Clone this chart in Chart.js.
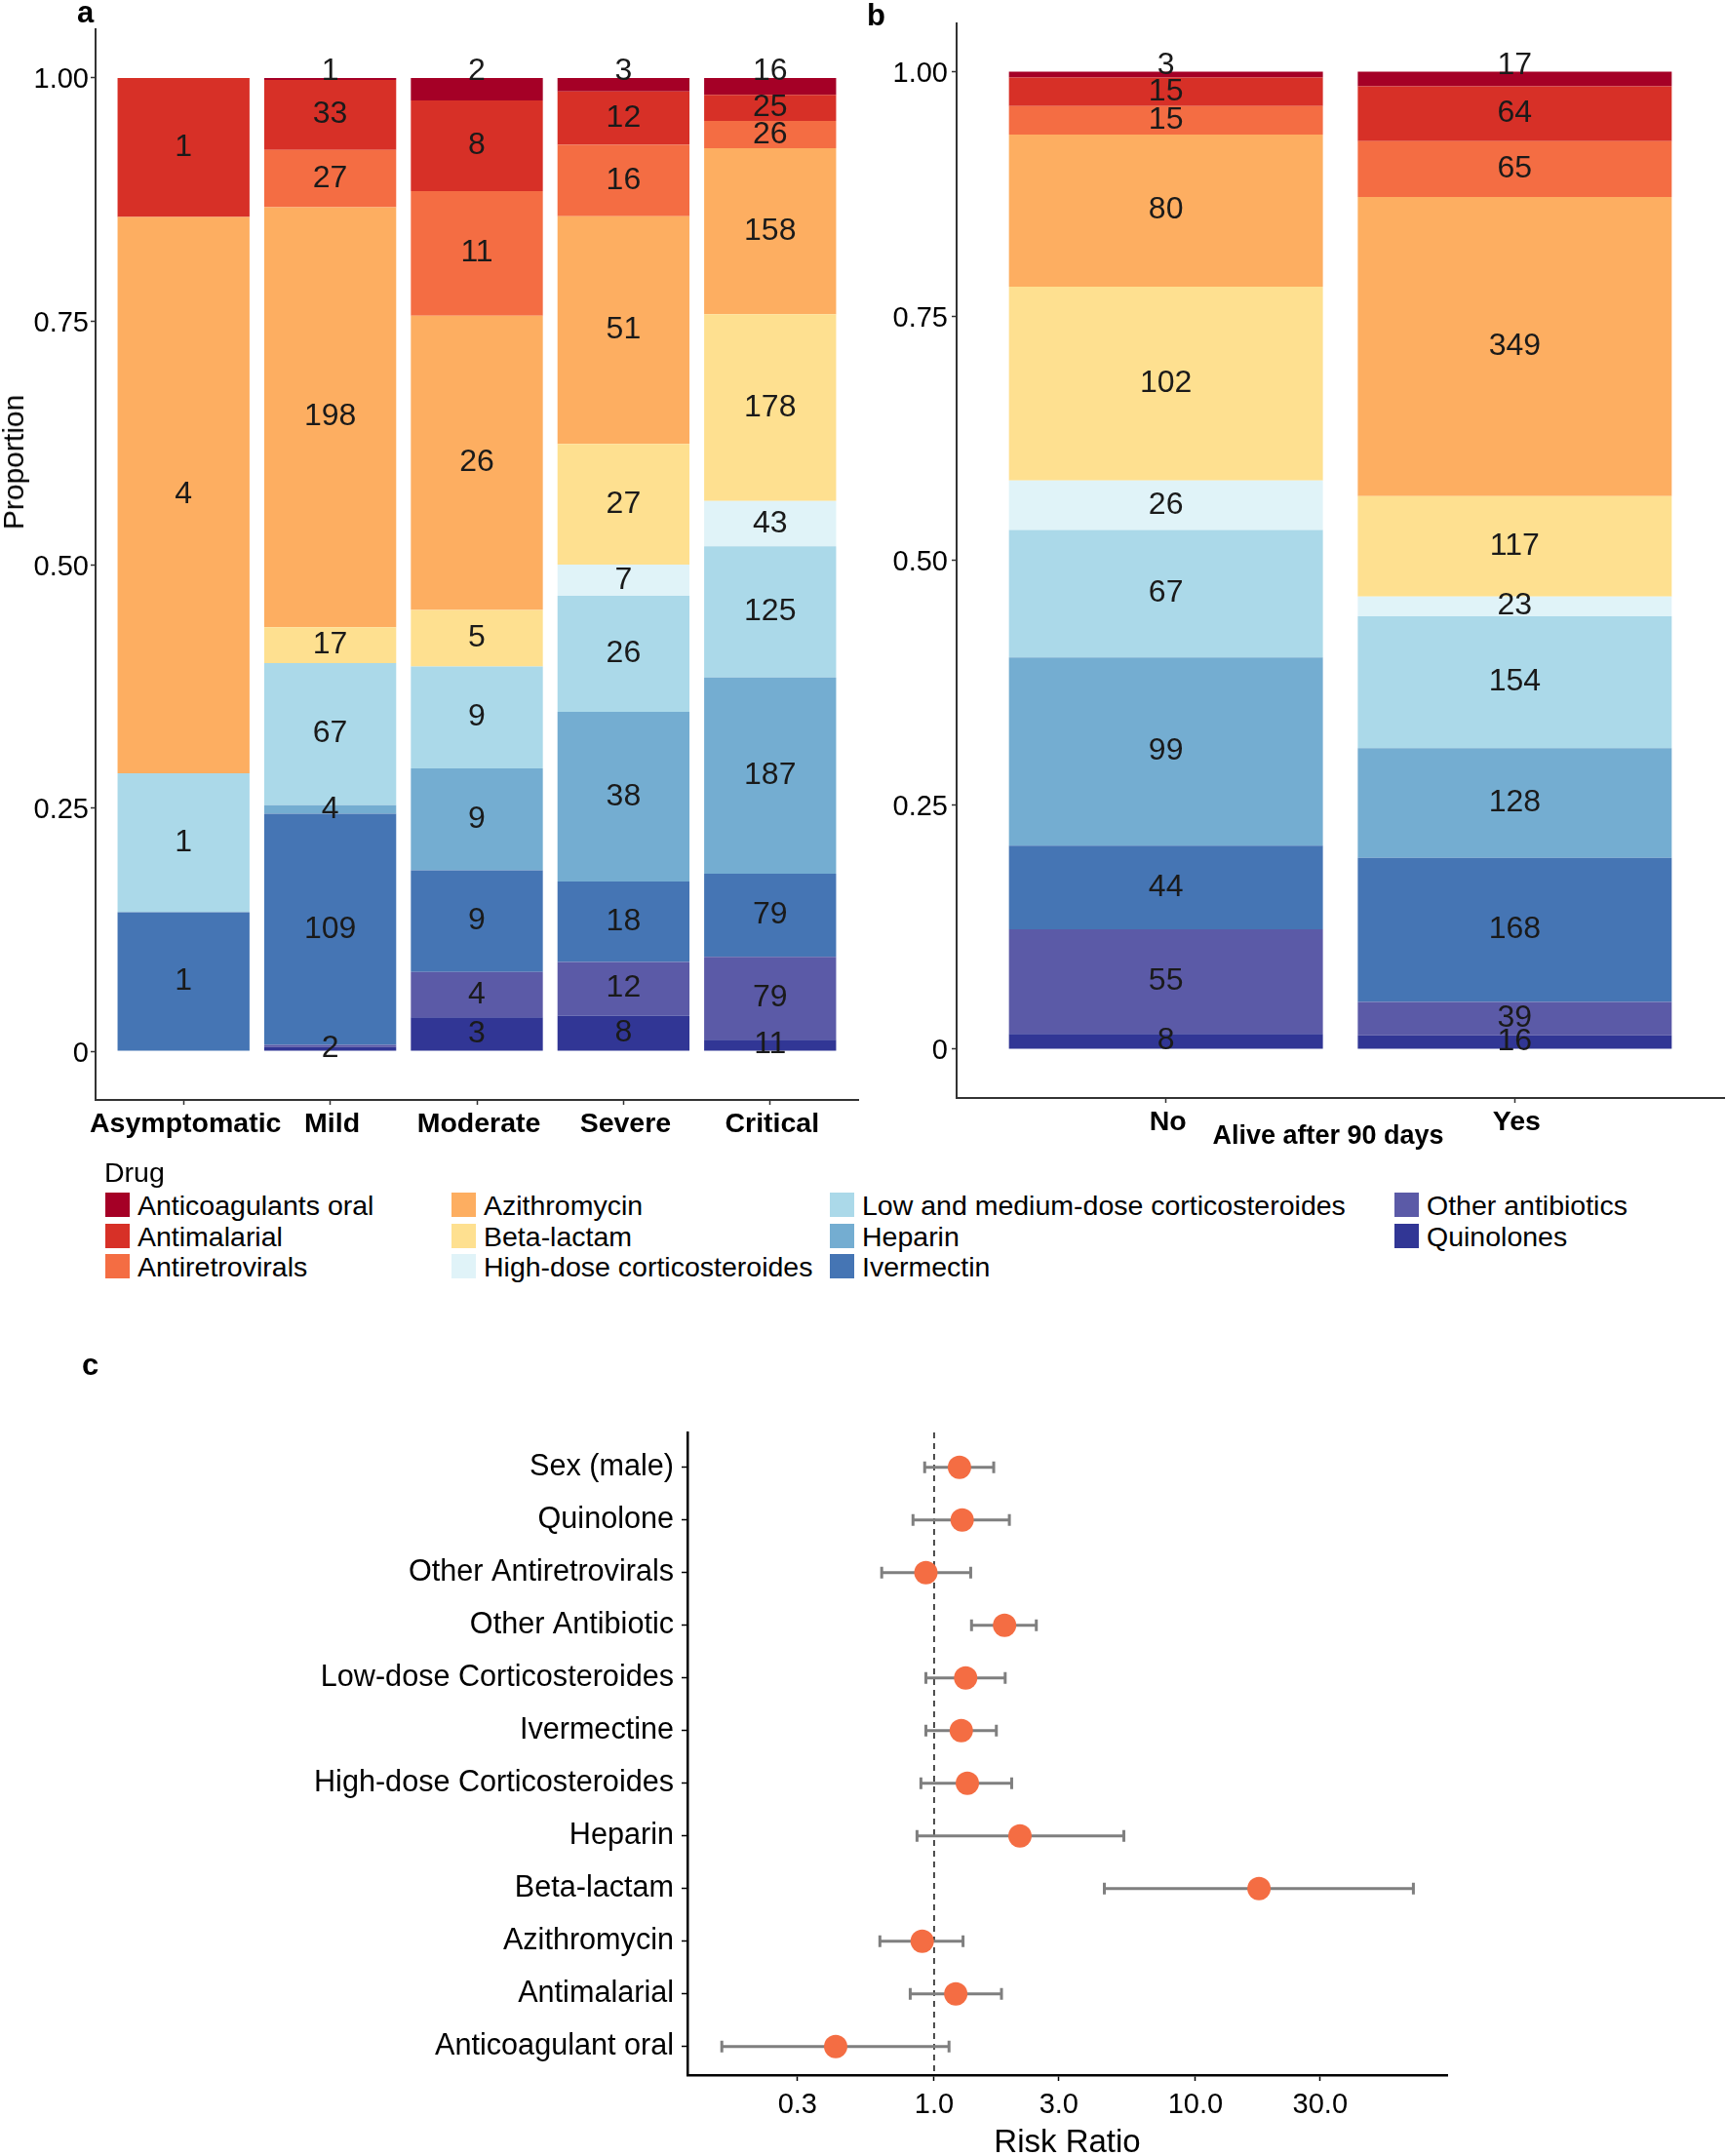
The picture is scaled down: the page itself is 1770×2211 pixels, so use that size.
<!DOCTYPE html>
<html>
<head>
<meta charset="utf-8">
<script src="https://cdn.jsdelivr.net/npm/chart.js@4.4.1/dist/chart.umd.min.js"></script>
<style>
body{margin:0;width:1770px;height:2211px;overflow:hidden;background:#fff;position:relative;font-family:"Liberation Sans",Arial,sans-serif;color:#000}
canvas{position:absolute}
.t{position:absolute;white-space:nowrap}
.key{position:absolute;width:25px;height:25px}
</style>
</head>
<body>
<canvas id="chartA" width="890" height="1200" style="left:0;top:0"></canvas>
<canvas id="chartB" width="880" height="1200" style="left:890px;top:0"></canvas>
<canvas id="chartC" width="1770" height="860" style="left:0;top:1380px"></canvas>

<div class="t" style="left:79px;top:-3px;font-size:31px;line-height:31px;font-weight:bold">a</div>
<div class="t" style="left:889px;top:0px;font-size:31px;line-height:31px;font-weight:bold">b</div>
<div class="t" style="left:84px;top:1384px;font-size:31px;line-height:31px;font-weight:bold">c</div>
<div class="t" style="left:14px;top:474px;font-size:30px;line-height:30px;transform:translate(-50%,-50%) rotate(-90deg)">Proportion</div>
<div class="t" style="left:1362px;top:1151px;font-size:27px;line-height:27px;font-weight:bold;transform:translateX(-50%)">Alive after 90 days</div>
<div class="t" style="left:107px;top:1188px;font-size:28.5px;line-height:28px">Drug</div>
<div id="legend"></div>

<script>
// drug groups, stacked top to bottom as in the legend
var drugs = ['Anticoagulants oral','Antimalarial','Antiretrovirals','Azithromycin','Beta-lactam',
  'High-dose corticosteroides','Low and medium-dose corticosteroides','Heparin','Ivermectin',
  'Other antibiotics','Quinolones'];
var drugColors = ['#a50026','#d73027','#f46d43','#fdae61','#fee090','#e0f3f8','#abd9e9','#74add1','#4575b4','#5b5aa7','#313695'];

// panel a: counts per severity
var severity = ['Asymptomatic','Mild','Moderate','Severe','Critical'];
var sevAnticoag    = [0, 1, 2, 3, 16];
var sevAntimalarial= [1, 33, 8, 12, 25];
var sevAntiretro   = [0, 27, 11, 16, 26];
var sevAzithro     = [4, 198, 26, 51, 158];
var sevBetalactam  = [0, 17, 5, 27, 178];
var sevHighCort    = [0, 0, 0, 7, 43];
var sevLowCort     = [1, 67, 9, 26, 125];
var sevHeparin     = [0, 4, 9, 38, 187];
var sevIvermectin  = [1, 109, 9, 18, 79];
var sevOtherAb     = [0, 1, 4, 12, 79];
var sevQuinolones  = [0, 2, 3, 8, 11];

// panel b: counts per outcome
var alive = ['No','Yes'];
var aliveAnticoag    = [3, 17];
var aliveAntimalarial= [15, 64];
var aliveAntiretro   = [15, 65];
var aliveAzithro     = [80, 349];
var aliveBetalactam  = [102, 117];
var aliveHighCort    = [26, 23];
var aliveLowCort     = [67, 154];
var aliveHeparin     = [99, 128];
var aliveIvermectin  = [44, 168];
var aliveOtherAb     = [55, 39];
var aliveQuinolones  = [8, 16];

var propTicks = [0, 0.25, 0.5, 0.75, 1];
var propTickLabels = ['0', '0.25', '0.50', '0.75', '1.00'];

// panel c: risk ratios with 95% CI
var riskLabels = ['Sex (male)','Quinolone','Other Antiretrovirals','Other Antibiotic','Low-dose Corticosteroides',
  'Ivermectine','High-dose Corticosteroides','Heparin','Beta-lactam','Azithromycin','Antimalarial','Anticoagulant oral'];
var riskRatio = [1.25, 1.28, 0.93, 1.86, 1.32, 1.27, 1.34, 2.13, 17.5, 0.90, 1.21, 0.42];
var ciLow     = [0.92, 0.83, 0.63, 1.39, 0.93, 0.93, 0.89, 0.86, 4.48, 0.62, 0.81, 0.154];
var ciHigh    = [1.69, 1.94, 1.38, 2.46, 1.87, 1.73, 1.98, 5.32, 68.2, 1.29, 1.81, 1.14];
var rrTicks = [0.3, 1, 3, 10, 30];

var FONT = '"Liberation Sans", Arial, sans-serif';
Chart.defaults.font.family = FONT;
Chart.defaults.color = '#000';
Chart.defaults.animation = false;

// legend, 3 rows per column
var legendColX = [108, 463, 851, 1430];
var legendHtml = '';
drugs.forEach(function(d, i){
  var x = legendColX[Math.floor(i / 3)];
  var y = 1223 + (i % 3) * 31.7;
  legendHtml += '<div class="key" style="left:' + x + 'px;top:' + y + 'px;background:' + drugColors[i] + '"></div>';
  legendHtml += '<div class="t" style="left:' + (x + 33) + 'px;top:' + (y - 1) + 'px;font-size:28.5px;line-height:28px">' + d + '</div>';
});
document.getElementById('legend').innerHTML = legendHtml;

function stackSets(groups){
  // groups listed top to bottom; Chart.js stacks the first dataset at the bottom
  var totals = groups[0].map(function(_, j){
    return groups.reduce(function(s, g){ return s + g[j]; }, 0);
  });
  var sets = [];
  for (var k = groups.length - 1; k >= 0; k--) {
    var counts = groups[k];
    sets.push({
      label: drugs[k],
      counts: counts,
      data: counts.map(function(c, j){ return {x: j, y: c / totals[j]}; }),
      backgroundColor: drugColors[k],
      borderWidth: 0,
      categoryPercentage: 0.9,
      barPercentage: 1.0
    });
  }
  return sets;
}

// count labels in the middle of each piece, top piece sits on the bar
var segLabels = {
  id: 'segLabels',
  afterDatasetsDraw: function(chart){
    var ctx = chart.ctx;
    var capH = 23;
    var boxes = [];
    var sets = chart.data.datasets;
    ctx.save();
    ctx.font = '32px ' + FONT;
    ctx.fillStyle = '#1a1a1a';
    ctx.textAlign = 'center';
    ctx.textBaseline = 'alphabetic';
    sets.forEach(function(ds, di){
      var meta = chart.getDatasetMeta(di);
      meta.data.forEach(function(bar, i){
        var n = ds.counts[i];
        if (!n) return;
        var txt = String(n);
        var base = (di === sets.length - 1) ? bar.y + 2 : (bar.y + bar.base) / 2 + capH / 2 - 3;
        var w = ctx.measureText(txt).width;
        var box = {l: bar.x - w / 2, r: bar.x + w / 2, t: base - capH, b: base};
        var hit = boxes.some(function(o){ return box.l < o.r && box.r > o.l && box.t < o.b && box.b > o.t; });
        if (hit) return;
        boxes.push(box);
        ctx.fillText(txt, bar.x, base);
      });
    });
    ctx.restore();
  }
};

function stackChart(id, cats, groups, yWidth, xHeight, pad, tickPad){
  return new Chart(document.getElementById(id), {
    type: 'bar',
    data: {datasets: stackSets(groups)},
    options: {
      responsive: false,
      devicePixelRatio: 1,
      layout: {padding: pad},
      plugins: {legend: {display: false}, tooltip: {enabled: false}},
      scales: {
        x: {
          type: 'linear', stacked: true, offset: false, min: -0.6, max: cats.length - 0.4,
          afterBuildTicks: function(s){ s.ticks = cats.map(function(_, i){ return {value: i}; }); },
          afterFit: function(s){ s.height = xHeight; },
          ticks: {callback: function(v){ return cats[v]; }, font: {size: 28.5, weight: 'bold'}, padding: 3, maxRotation: 0, autoSkip: false, labelOffset: 2},
          grid: {offset: false, drawOnChartArea: false, drawTicks: true, tickLength: 5, tickColor: '#333', tickWidth: 1.5},
          border: {display: true, color: '#333', width: 2}
        },
        y: {
          stacked: true, min: -0.05, max: 1.05,
          afterBuildTicks: function(s){ s.ticks = propTicks.map(function(v){ return {value: v}; }); },
          afterFit: function(s){ s.width = yWidth; },
          ticks: {callback: function(v){ return propTickLabels[propTicks.indexOf(v)]; }, font: {size: 29}, padding: tickPad, labelOffset: 2.5},
          grid: {drawOnChartArea: false, drawTicks: true, tickLength: 5, tickColor: '#333', tickWidth: 1.5},
          border: {display: true, color: '#333', width: 2}
        }
      }
    },
    plugins: [segLabels]
  });
}

stackChart('chartA', severity,
  [sevAnticoag, sevAntimalarial, sevAntiretro, sevAzithro, sevBetalactam, sevHighCort, sevLowCort, sevHeparin, sevIvermectin, sevOtherAb, sevQuinolones],
  98, 72, {left: 0, right: 10, top: 30, bottom: 0}, 2);

stackChart('chartB', alive,
  [aliveAnticoag, aliveAntimalarial, aliveAntiretro, aliveAzithro, aliveBetalactam, aliveHighCort, aliveLowCort, aliveHeparin, aliveIvermectin, aliveOtherAb, aliveQuinolones],
  91, 74, {left: 0, right: 2, top: 23.5, bottom: 0}, 4);

// forest plot: reference line and error bars drawn under the points
var forestMarks = {
  id: 'forestMarks',
  beforeDatasetsDraw: function(chart){
    var ctx = chart.ctx, xs = chart.scales.x, ys = chart.scales.y, area = chart.chartArea;
    ctx.save();
    var x1 = xs.getPixelForValue(1);
    ctx.strokeStyle = '#222';
    ctx.lineWidth = 1.6;
    ctx.setLineDash([6, 5]);
    ctx.beginPath();
    ctx.moveTo(x1, area.top);
    ctx.lineTo(x1, area.bottom);
    ctx.stroke();
    ctx.setLineDash([]);
    ctx.strokeStyle = '#7f7f7f';
    ctx.lineWidth = 3;
    riskLabels.forEach(function(_, i){
      var y = ys.getPixelForValue(i);
      var a = xs.getPixelForValue(ciLow[i]), b = xs.getPixelForValue(ciHigh[i]);
      ctx.beginPath();
      ctx.moveTo(a, y); ctx.lineTo(b, y);
      ctx.moveTo(a, y - 6); ctx.lineTo(a, y + 6);
      ctx.moveTo(b, y - 6); ctx.lineTo(b, y + 6);
      ctx.stroke();
    });
    ctx.restore();
  }
};

new Chart(document.getElementById('chartC'), {
  type: 'scatter',
  data: {datasets: [{
    data: riskRatio.map(function(v, i){ return {x: v, y: i}; }),
    backgroundColor: '#f46d43',
    borderWidth: 0,
    pointRadius: 12
  }]},
  options: {
    responsive: false,
    devicePixelRatio: 1,
    layout: {padding: {left: 0, right: 286, top: 89, bottom: 0}},
    plugins: {legend: {display: false}, tooltip: {enabled: false}},
    scales: {
      x: {
        type: 'logarithmic', min: 0.1138, max: 91.8,
        afterBuildTicks: function(s){ s.ticks = rrTicks.map(function(v){ return {value: v}; }); },
        afterFit: function(s){ s.height = 112; },
        ticks: {callback: function(v){ return Number(v).toFixed(1); }, font: {size: 29}, padding: 8, maxRotation: 0},
        grid: {drawOnChartArea: false, drawTicks: true, tickLength: 6, tickColor: '#000', tickWidth: 1.5},
        border: {display: true, color: '#000', width: 2.5},
        title: {display: true, text: 'Risk Ratio', font: {size: 33}, padding: {top: 0, bottom: 22}}
      },
      y: {
        type: 'linear', reverse: true, min: -0.66, max: riskLabels.length - 0.46,
        afterBuildTicks: function(s){ s.ticks = riskLabels.map(function(_, i){ return {value: i}; }); },
        afterFit: function(s){ s.width = 705; },
        ticks: {callback: function(v){ return riskLabels[v]; }, font: {size: 30.6}, padding: 8, autoSkip: false},
        grid: {drawOnChartArea: false, drawTicks: true, tickLength: 6, tickColor: '#000', tickWidth: 1.5},
        border: {display: true, color: '#000', width: 2.5}
      }
    }
  },
  plugins: [forestMarks]
});
</script>
</body>
</html>
